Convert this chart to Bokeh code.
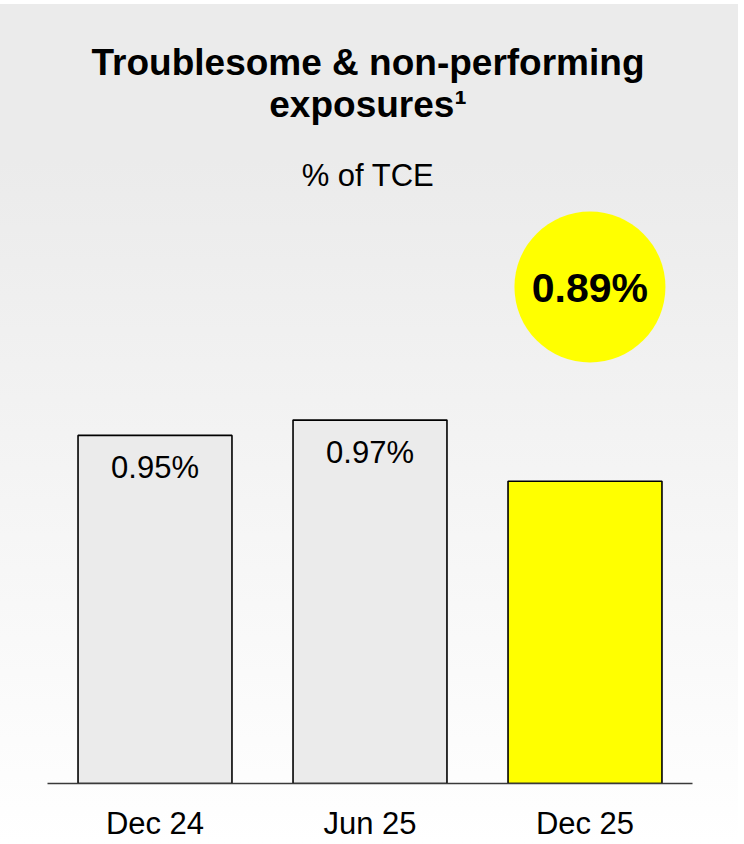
from bokeh.plotting import figure
from bokeh.models import FactorRange, Range1d, Label, ColumnDataSource
from bokeh.transform import dodge
from bokeh.core.properties import value
from bokeh.embed import file_html
from bokeh.resources import INLINE

# ---- data ----
categories = ["Dec 24", "Jun 25", "Dec 25"]
values = [0.95, 0.97, 0.89]
value_labels = ["0.95%", "0.97%", "0.89%"]
bar_colors = ["#ebebeb", "#ebebeb", "#ffff00"]
title_lines = ["Troublesome & non-performing", "exposures\u00b9"]
subtitle = "% of TCE"

# ---- layout / style ----
FONT = "Liberation Sans"
W, H = 738, 843
Y_START, Y_END = 0.495, 1.5185
CALLOUT_Y = 1.144
CALLOUT_DX = 0.023

p = figure(
    width=W, height=H,
    x_range=FactorRange(factors=categories, range_padding=0),
    y_range=Range1d(Y_START, Y_END),
    output_backend="svg", toolbar_location=None,
    min_border_left=47, min_border_right=46,
    min_border_top=0, min_border_bottom=60,
    y_axis_location=None,
)
p.styles = {"background": "linear-gradient(180deg, #ffffff 0px, #ffffff 4px, #ebebeb 4px, #ebebeb 160px, #ffffff 100%)"}
p.background_fill_alpha = 0
p.border_fill_alpha = 0
p.outline_line_color = None
p.xgrid.visible = False
p.ygrid.visible = False

ax = p.xaxis[0]
ax.axis_line_color = "#3a3a3a"
ax.axis_line_width = 1.5
ax.major_tick_line_color = None
ax.minor_tick_line_color = None
ax.major_tick_in = 0
ax.major_tick_out = 0
ax.major_label_standoff = 22
ax.major_label_text_font = FONT
ax.major_label_text_font_size = "31px"
ax.major_label_text_color = "#000000"

src = ColumnDataSource(dict(cat=categories, val=values, color=bar_colors, label=value_labels))
p.vbar(x="cat", top="val", width=0.716, source=src,
       fill_color="color", line_color="#000000", line_width=1.6)

# labels inside the first two bars
lab_src = ColumnDataSource(dict(cat=categories[:-1], val=values[:-1], label=value_labels[:-1]))
p.text(x="cat", y="val", text="label", source=lab_src,
       text_align="center", text_baseline="alphabetic", y_offset=32,
       text_font=value(FONT), text_font_size="31px", text_color="#000000")

# callout circle for the latest value
c_src = ColumnDataSource(dict(cat=[categories[-1]], y=[CALLOUT_Y], label=[value_labels[-1]]))
p.scatter(x=dodge("cat", CALLOUT_DX, range=p.x_range), y="y", source=c_src,
          marker="circle", size=151, fill_color="#ffff00", line_color=None)
p.text(x=dodge("cat", CALLOUT_DX, range=p.x_range), y="y", text="label", source=c_src,
       text_align="center", text_baseline="alphabetic", y_offset=1,
       text_font=value(FONT), text_font_size="41px", text_font_style="bold",
       text_color="#000000")

# titles
p.add_layout(Label(x=320.5, y=721, x_units="screen", y_units="screen", text=title_lines[0],
                   text_align="center", text_baseline="alphabetic",
                   text_font=FONT, text_font_size="37px", text_font_style="bold",
                   text_color="#000000"))
p.add_layout(Label(x=320.5, y=679, x_units="screen", y_units="screen", text=title_lines[1],
                   text_align="center", text_baseline="alphabetic",
                   text_font=FONT, text_font_size="37px", text_font_style="bold",
                   text_color="#000000"))
p.add_layout(Label(x=320.5, y=608, x_units="screen", y_units="screen", text=subtitle,
                   text_align="center", text_baseline="alphabetic",
                   text_font=FONT, text_font_size="31px",
                   text_color="#000000"))

open("out.html", "w").write(file_html(p, INLINE))
